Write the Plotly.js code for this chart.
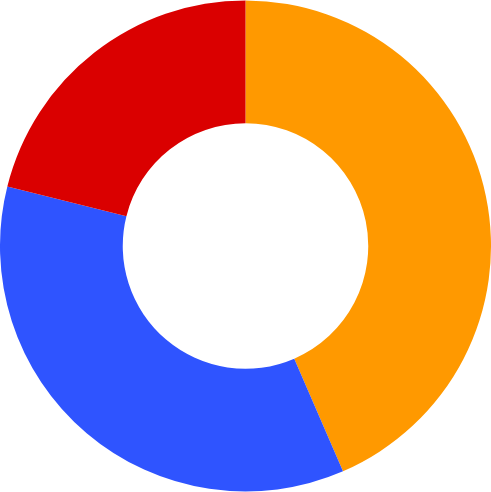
<!DOCTYPE html>
<html>
<head>
<meta charset="utf-8">
<script src="https://cdn.plot.ly/plotly-3.0.1.min.js"></script>
<style>
  html, body { margin: 0; padding: 0; background: #fff; }
  #chart { width: 491px; height: 492px; }
</style>
</head>
<body>
<div id="chart"></div>
<script>
// slices, clockwise from 12 o'clock
var labels = ['A', 'B', 'C'];
var values = [43.5, 35.4, 21.1];
var colors = ['#FF9900', '#2F54FF', '#DA0000'];

var trace = {
    type: 'pie',
    labels: labels,
    values: values,
    hole: 0.5,
    sort: false,
    direction: 'clockwise',
    rotation: 0,
    textinfo: 'none',
    hoverinfo: 'label+percent',
    marker: { colors: colors, line: { width: 0 } }
};

var layout = {
    width: 491,
    height: 492,
    margin: { l: 0, r: 0, t: 0, b: 0 },
    showlegend: false,
    paper_bgcolor: '#fff'
};

Plotly.newPlot('chart', [trace], layout, { displayModeBar: false, staticPlot: true });
</script>
</body>
</html>
